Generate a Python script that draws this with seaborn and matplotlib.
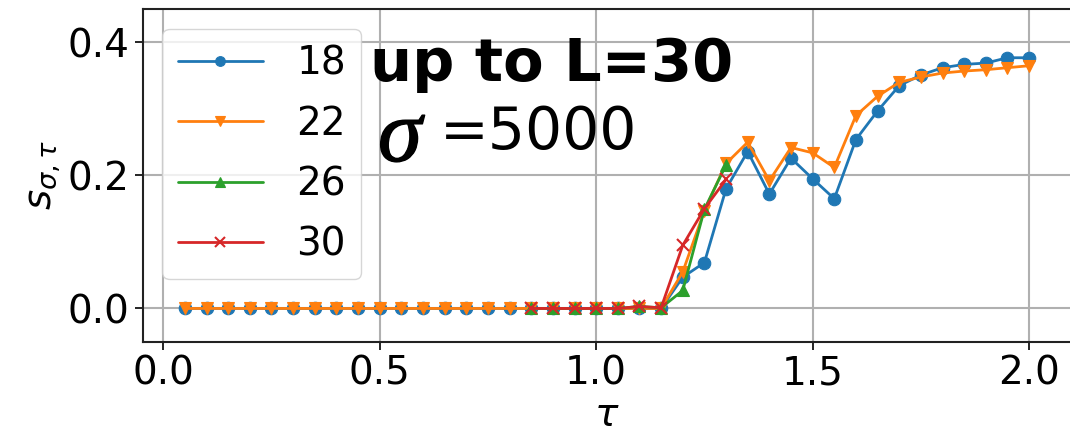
import numpy as np
import pandas as pd
import matplotlib
matplotlib.use("Agg")
import matplotlib.pyplot as plt
import matplotlib.patheffects as pe
import seaborn as sns

tau_full = [0.05, 0.10, 0.15, 0.20, 0.25, 0.30, 0.35, 0.40, 0.45, 0.50,
            0.55, 0.60, 0.65, 0.70, 0.75, 0.80, 0.85, 0.90, 0.95, 1.00,
            1.05, 1.10, 1.15, 1.20, 1.25, 1.30, 1.35, 1.40, 1.45, 1.50,
            1.55, 1.60, 1.65, 1.70, 1.75, 1.80, 1.85, 1.90, 1.95, 2.00]
s18 = [0.0, 0.0, 0.0, 0.0, 0.0, 0.0, 0.0, 0.0, 0.0, 0.0,
       0.0, 0.0, 0.0, 0.0, 0.0, 0.0, 0.0, 0.0, 0.0, 0.0,
       0.0, 0.0, 0.0, 0.047, 0.069, 0.180, 0.236, 0.172, 0.226, 0.195,
       0.165, 0.254, 0.297, 0.335, 0.351, 0.362, 0.367, 0.369, 0.377, 0.377]
s22 = [0.0, 0.0, 0.0, 0.0, 0.0, 0.0, 0.0, 0.0, 0.0, 0.0,
       0.0, 0.0, 0.0, 0.0, 0.0, 0.0, 0.0, 0.0, 0.0, 0.0,
       0.0, 0.0, 0.0, 0.055, 0.147, 0.218, 0.250, 0.192, 0.242, 0.234,
       0.212, 0.290, 0.319, 0.340, 0.348, 0.354, 0.357, 0.359, 0.362, 0.365]
tau_short = [0.85, 0.90, 0.95, 1.00, 1.05, 1.10, 1.15, 1.20, 1.25, 1.30]
s26 = [0.0, 0.0, 0.0, 0.0, 0.0, 0.003, 0.001, 0.027, 0.149, 0.216]
s30 = [0.0, 0.0, 0.0, 0.0, 0.0, 0.003, 0.001, 0.095, 0.150, 0.194]

labels = ["18", "22", "26", "30"]
colors = ["#1f77b4", "#ff7f0e", "#2ca02c", "#d62728"]
markers = ["o", "v", "^", "x"]
series = [(tau_full, s18), (tau_full, s22), (tau_short, s26), (tau_short, s30)]

sns.set_style("ticks")
plt.rcParams["font.family"] = ["DejaVu Sans"]
plt.rcParams["mathtext.fontset"] = "dejavusans"
for k in ["text.color", "axes.labelcolor", "xtick.color", "ytick.color"]:
    plt.rcParams[k] = "black"

fig = plt.figure(figsize=(10.7, 4.33), dpi=100)
ax = fig.add_axes([142.7 / 1070, 1 - 341.7 / 433, (1071.3 - 142.7) / 1070, 332.5 / 433])

for (x, y), lab, c, m in zip(series, labels, colors, markers):
    df = pd.DataFrame({"tau": x, "s": y})
    sns.lineplot(data=df, x="tau", y="s", ax=ax, color=c, marker=m,
                 markersize=9, markeredgecolor=c, markeredgewidth=1.5 if m == "x" else 0.8,
                 linewidth=2, label=lab, errorbar=None)

ax.set_xlim(-0.0475, 2.0975)
ax.set_ylim(-0.05, 0.45)
ax.set_xticks([0.0, 0.5, 1.0, 1.5, 2.0])
ax.set_yticks([0.0, 0.2, 0.4])
ax.grid(True, color="#b0b0b0", linewidth=1.5)
ax.tick_params(labelsize=28, length=6, width=1.2, colors="black")
for sp in ax.spines.values():
    sp.set_visible(True)
    sp.set_linewidth(1.5)
    sp.set_color("#222222")
ax.set_xlabel(r"$\tau$", fontsize=28, labelpad=2)
ax.set_ylabel(r"$s_{\sigma,\tau}$", fontsize=28, labelpad=4)

leg = ax.legend(loc="upper left", fontsize=28, frameon=True, fancybox=True,
                framealpha=0.8, edgecolor="#cccccc", borderaxespad=0.5,
                handlelength=2.2, handletextpad=0.85, labelspacing=0.58)
for t in leg.get_texts():
    t.set_color("black")
for h in leg.legend_handles:
    h.set_markersize(7)

fig.text(370 / 1070, 1 - 81 / 433, "up to L=30", fontsize=42.5, fontweight="bold",
         va="baseline", ha="left")
t_sig = fig.text(378 / 1070, 1 - 161 / 433, "σ", fontsize=64,
                 fontfamily="Liberation Serif", fontstyle="italic",
                 va="baseline", ha="left")
t_sig.set_path_effects([pe.withStroke(linewidth=1.0, foreground="black")])
fig.text(440 / 1070, 1 - 149 / 433, "=5000", fontsize=42, fontfamily="DejaVu Sans",
         va="baseline", ha="left")

fig.savefig("out.png", dpi=100)
